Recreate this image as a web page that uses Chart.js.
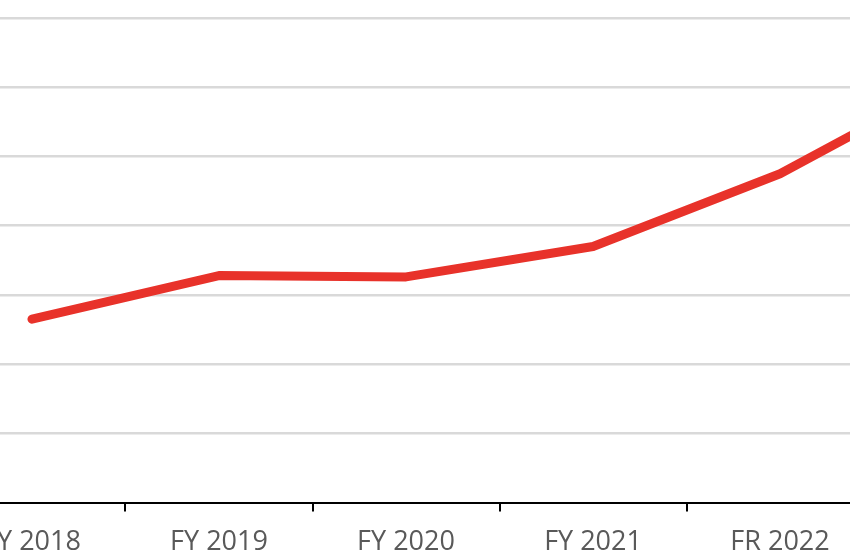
<!DOCTYPE html>
<html>
<head>
<meta charset="utf-8">
<title>FY trend</title>
<script src="https://cdn.jsdelivr.net/npm/chart.js@4/dist/chart.umd.min.js"></script>
<style>
    html, body { margin: 0; padding: 0; background: #ffffff; }
    #wrap { position: relative; width: 850px; height: 560px; overflow: hidden; }
    #lienzo { position: absolute; left: 0; top: 0; width: 850px; height: 574px; }
</style>
</head>
<body>
<div id="wrap"><div id="lienzo"><canvas id="trendChart"></canvas></div></div>
<script>
// Datos (unidades relativas a las líneas de cuadrícula)
const categorias = ['FY 2018', 'FY 2019', 'FY 2020', 'FY 2021', 'FR 2022', 'FY 2023'];
const valores = [26.5, 32.8, 32.6, 37.0, 47.5, 62.0];
const ticksY = [0, 10, 20, 30, 40, 50, 60, 70];

// Tramo visible del eje X (la imagen está recortada a ambos lados)
const xMin = -0.171;
const xMax = 4.374;

const puntos = valores.map((v, i) => ({ x: i, y: v }));

function dentro(v) {
    return v >= xMin && v <= xMax;
}

const ctx = document.getElementById('trendChart');

new Chart(ctx, {
    type: 'line',
    data: {
        datasets: [{
            label: 'Serie',
            data: puntos,
            borderColor: '#e8322a',
            backgroundColor: '#e8322a',
            borderWidth: 9,
            borderCapStyle: 'round',
            borderJoinStyle: 'round',
            pointRadius: 0,
            tension: 0,
            fill: false
        }]
    },
    options: {
        responsive: true,
        maintainAspectRatio: false,
        animation: false,
        layout: { padding: { top: 18, bottom: 0, left: 0, right: 0 } },
        plugins: {
            legend: { display: false },
            tooltip: { enabled: false }
        },
        scales: {
            // etiquetas de categoría
            x: {
                type: 'linear',
                position: 'bottom',
                weight: 1,
                min: xMin,
                max: xMax,
                afterBuildTicks: (s) => {
                    s.ticks = categorias.map((_, i) => ({ value: i })).filter(t => dentro(t.value));
                },
                afterFit: (s) => {
                    s.paddingLeft = 0;
                    s.paddingRight = 0;
                },
                grid: { display: false, drawTicks: false },
                border: { display: false },
                ticks: {
                    padding: 15,
                    maxRotation: 0,
                    autoSkip: false,
                    color: '#595959',
                    font: { family: '"Open Sans", sans-serif', size: 27 },
                    callback: (v) => categorias[v]
                }
            },
            // marcas entre categorías y línea del eje
            x2: {
                type: 'linear',
                position: 'bottom',
                weight: 0,
                min: xMin,
                max: xMax,
                afterBuildTicks: (s) => {
                    s.ticks = categorias.map((_, i) => ({ value: i + 0.5 })).filter(t => dentro(t.value));
                },
                grid: {
                    display: true,
                    drawOnChartArea: false,
                    drawTicks: true,
                    tickLength: 9,
                    tickColor: '#000000',
                    lineWidth: 2
                },
                border: { display: true, color: '#000000', width: 2 },
                ticks: { display: false }
            },
            y: {
                min: 0,
                max: 70,
                afterBuildTicks: (s) => {
                    s.ticks = ticksY.map(v => ({ value: v }));
                },
                grid: {
                    drawTicks: false,
                    lineWidth: 2.5,
                    color: (c) => c.tick && c.tick.value === 0 ? 'rgba(0,0,0,0)' : '#d9d9d9'
                },
                border: { display: false },
                ticks: { display: false }
            }
        }
    }
});
</script>
</body>
</html>
